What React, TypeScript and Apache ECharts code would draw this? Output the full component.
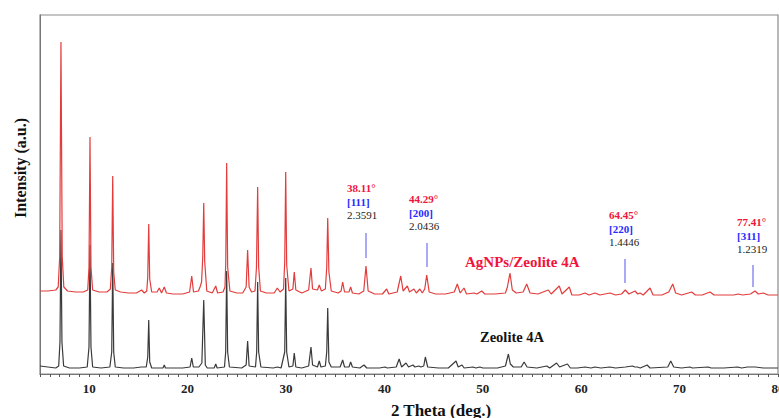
import React, { useEffect, useRef } from "react";
import * as echarts from "echarts";

// 2θ (deg.) vs intensity (a.u.)
const zeolite4A: [number, number][] = [
  [5, 11], [5.8, 10], [6.6, 9], [6.9, 11], [7.03, 35], [7.13, 147], [7.23, 35], [7.4, 11], [8.0, 9], [9.0, 9],
  [9.8, 10], [9.98, 30], [10.08, 132], [10.18, 30], [10.35, 10], [11.2, 9], [12.1, 10], [12.29, 25], [12.39, 114],
  [12.49, 25], [12.65, 10], [13.5, 9], [14.5, 9], [15.3, 10], [15.8, 10], [15.95, 20], [16.05, 57], [16.15, 15],
  [16.35, 9], [17.0, 9], [17.5, 9], [17.63, 12], [17.75, 9], [19.5, 9], [20.25, 10], [20.42, 19], [20.58, 10],
  [21.15, 10], [21.3, 12], [21.45, 14], [21.64, 77], [21.8, 12], [22.0, 9], [22.7, 9], [22.86, 13], [23.0, 9],
  [23.75, 10], [23.87, 25], [23.97, 106], [24.07, 25], [24.25, 10], [25.5, 9], [25.95, 12], [26.1, 36], [26.25, 11],
  [26.9, 10], [27.02, 25], [27.12, 95], [27.22, 25], [27.45, 10], [28.7, 9], [29.12, 10], [29.5, 9], [29.87, 25],
  [29.97, 99], [30.07, 25], [30.3, 10], [30.7, 11], [30.84, 24], [31.0, 10], [31.6, 9], [32.3, 11], [32.54, 30],
  [32.7, 12], [33.2, 10], [33.38, 16], [33.55, 10], [34.0, 11], [34.14, 25], [34.24, 69], [34.36, 15], [34.6, 10],
  [35.5, 10], [35.76, 17], [35.95, 10], [36.4, 10], [36.57, 15], [36.75, 10], [37.5, 9], [37.93, 12], [38.2, 9],
  [39.5, 9], [40.06, 10], [40.3, 9], [41.2, 10], [41.5, 18], [41.75, 10], [42.2, 14], [42.45, 10], [42.9, 12],
  [43.1, 10], [43.5, 11], [43.7, 10], [44.0, 11], [44.16, 20], [44.4, 10], [45.5, 9], [46.5, 9], [47.28, 16],
  [47.5, 10], [47.89, 12], [48.1, 9], [49.0, 10], [49.3, 9], [49.7, 10], [50.0, 9], [51.5, 9], [52.3, 11],
  [52.6, 23], [52.8, 13], [53.1, 10], [53.9, 10], [54.2, 15], [54.5, 10], [55.5, 9], [56.5, 11], [56.8, 9],
  [57.5, 14], [57.8, 10], [58.6, 13], [58.9, 9], [59.6, 9], [60.4, 10], [61.0, 9], [61.4, 10], [62.0, 9],
  [62.9, 10], [63.5, 9], [64.5, 10], [65.2, 11], [65.45, 10], [65.7, 10], [66.0, 9], [66.7, 12], [67.0, 9],
  [68.8, 10], [69.1, 16], [69.4, 10], [70.2, 9], [71.05, 10], [71.3, 9], [72.9, 10], [73.2, 9], [74.5, 9],
  [75.9, 10], [76.3, 9], [76.9, 10], [77.7, 10], [78.5, 9], [79.3, 9], [80, 9],
];

const agZeolite4A: [number, number][] = [
  [5, 86], [5.8, 86], [6.6, 87], [6.85, 90], [7.0, 120], [7.13, 335], [7.26, 120], [7.42, 90], [7.8, 86], [8.6, 85],
  [9.4, 85], [9.85, 87], [9.98, 110], [10.08, 240], [10.18, 110], [10.35, 87], [11.0, 85], [11.8, 85], [12.15, 88],
  [12.29, 110], [12.39, 201], [12.49, 105], [12.65, 87], [13.2, 85], [14.0, 84], [14.8, 84], [15.33, 87], [15.6, 84],
  [15.85, 86], [15.95, 100], [16.05, 153], [16.15, 98], [16.35, 85], [16.9, 85], [17.12, 89], [17.35, 84],
  [17.63, 90], [17.85, 84], [18.5, 83], [19.5, 83], [20.2, 85], [20.42, 101], [20.6, 85], [21.1, 86], [21.3, 91],
  [21.42, 95], [21.54, 120], [21.64, 174], [21.74, 115], [21.95, 86], [22.5, 84], [22.86, 91], [23.05, 84],
  [23.6, 85], [23.8, 90], [23.88, 115], [23.97, 214], [24.07, 110], [24.3, 86], [25.0, 84], [25.6, 84], [25.95, 90],
  [26.1, 127], [26.25, 90], [26.5, 85], [26.85, 86], [27.0, 110], [27.12, 190], [27.22, 110], [27.4, 86], [28.0, 84],
  [28.8, 84], [29.12, 89], [29.4, 85], [29.75, 88], [29.87, 115], [29.97, 205], [30.07, 112], [30.3, 86], [30.7, 88],
  [30.84, 105], [31.0, 87], [31.6, 84], [32.3, 87], [32.54, 109], [32.7, 88], [33.2, 87], [33.38, 92], [33.6, 86],
  [34.0, 88], [34.14, 110], [34.24, 159], [34.36, 105], [34.6, 86], [35.3, 84], [35.6, 86], [35.76, 95], [35.95, 85],
  [36.4, 85], [36.57, 90], [36.75, 84], [37.4, 83], [37.9, 86], [38.13, 111], [38.35, 86], [39.0, 83], [39.8, 83],
  [40.23, 88], [40.45, 83], [41.3, 85], [41.66, 101], [41.9, 86], [42.33, 91], [42.55, 85], [43.0, 88], [43.25, 84],
  [43.6, 88], [43.85, 84], [44.1, 88], [44.3, 102], [44.55, 85], [45.2, 83], [46.2, 83], [47.1, 85], [47.41, 93],
  [47.7, 84], [48.09, 89], [48.35, 83], [49.1, 84], [49.4, 83], [49.89, 86], [50.2, 83], [51.2, 83], [52.3, 84],
  [52.5, 90], [52.76, 104], [53.0, 87], [53.4, 84], [54.1, 85], [54.46, 93], [54.8, 84], [55.6, 83], [56.66, 87],
  [56.95, 83], [57.77, 91], [58.05, 83], [58.79, 90], [59.05, 82], [59.8, 82], [60.39, 84], [60.8, 82], [61.4, 84],
  [61.9, 82], [62.4, 83], [62.93, 84], [63.5, 82], [64.1, 83], [64.48, 87], [64.85, 83], [65.47, 86], [65.75, 83],
  [65.98, 84], [66.3, 82], [67.0, 89], [67.3, 82], [68.2, 82], [68.9, 85], [69.3, 93], [69.6, 84], [70.2, 82],
  [71.23, 85], [71.6, 82], [72.3, 82], [73.09, 85], [73.5, 82], [74.5, 82], [75.5, 82], [75.96, 83], [76.4, 82],
  [77.2, 83], [77.66, 86], [78.0, 83], [78.5, 84], [79.0, 82], [79.6, 82], [80, 82],
];

// Ag peak annotations
const agPeaks = [38.11, 44.29, 64.45, 77.41];
const agPeakLabels = ["38.11°", "44.29°", "64.45°", "77.41°"];
const agHkl = ["[111]", "[200]", "[220]", "[311]"];
const agDSpacing = ["2.3591", "2.0436", "1.4446", "1.2319"];
const markerLow = [119, 110, 94, 90];
const markerHigh = [144, 134, 118, 112];

const xTickLabels = [10, 20, 30, 40, 50, 60, 70, 80];

const SERIF = '"Liberation Serif", "Times New Roman", serif';

export default function App() {
  const ref = useRef<HTMLDivElement>(null);
  useEffect(() => {
    if (!ref.current) return;
    const chart = echarts.init(ref.current, null, { renderer: "svg" });

    const annX = [347, 409, 609, 737];
    const annY = [188, 199, 215, 222];
    const annTexts: any[] = [];
    agPeaks.forEach((_, i) => {
      annTexts.push(
        { type: "text", x: annX[i], y: annY[i], style: { text: agPeakLabels[i], fill: "#f0143c", font: `bold 11px ${SERIF}`, verticalAlign: "middle" } },
        { type: "text", x: annX[i], y: annY[i] + 14, style: { text: agHkl[i], fill: "#2a2aff", font: `bold 11px ${SERIF}`, verticalAlign: "middle" } },
        { type: "text", x: annX[i], y: annY[i] + 26.5, style: { text: agDSpacing[i], fill: "#222", font: `11px ${SERIF}`, verticalAlign: "middle" } }
      );
    });

    chart.setOption({
      animation: false,
      backgroundColor: "#fff",
      grid: {
        left: 40, top: 15, right: 1, bottom: 44,
        outerBoundsMode: "none",
        containLabel: false,
        show: true, borderColor: "#8a8a8a", borderWidth: 1.2,
      },
      xAxis: {
        type: "value",
        min: 5,
        max: 80,
        interval: 1,
        axisLine: { show: true, lineStyle: { color: "#777", width: 1.2 } },
        axisTick: { show: true, length: 3, inside: false, lineStyle: { color: "#555" } },
        splitLine: { show: false },
        axisLabel: {
          margin: 8,
          color: "#222",
          fontFamily: SERIF,
          fontWeight: "bold",
          fontSize: 13,
          formatter: (v: number) => (xTickLabels.includes(v) ? String(v) : ""),
        },
      },
      yAxis: {
        type: "value",
        min: 3,
        max: 362,
        axisLine: { show: true, lineStyle: { color: "#777" } },
        axisTick: { show: false },
        axisLabel: { show: false },
        splitLine: { show: false },
      },
      series: [
        {
          name: "Zeolite 4A",
          type: "line",
          data: zeolite4A,
          showSymbol: false,
          symbol: "none",
          lineStyle: { color: "#3a3a3a", width: 1.2 },
        },
        {
          name: "AgNPs/Zeolite 4A",
          type: "line",
          data: agZeolite4A,
          showSymbol: false,
          symbol: "none",
          lineStyle: { color: "#e23c3c", width: 1.2 },
          markLine: {
            silent: true,
            symbol: "none",
            label: { show: false },
            lineStyle: { color: "#8c8cf5", width: 1.5, type: "solid" },
            data: agPeaks.map((p, i) => [{ coord: [p, markerLow[i]] }, { coord: [p, markerHigh[i]] }]),
          },
        },
      ],
      graphic: [
        {
          type: "text",
          x: 20,
          y: 168,
          rotation: Math.PI / 2,
          style: { text: "Intensity (a.u.)", fill: "#111", font: `bold 16px ${SERIF}`, textAlign: "center", verticalAlign: "middle" },
        },
        {
          type: "text",
          x: 441,
          y: 410,
          style: { text: "2 Theta (deg.)", fill: "#111", font: `bold 17px ${SERIF}`, textAlign: "center", verticalAlign: "middle" },
        },
        {
          type: "text",
          x: 465,
          y: 262,
          style: { text: "AgNPs/Zeolite 4A", fill: "#f0143c", font: `bold 15px ${SERIF}`, verticalAlign: "middle" },
        },
        {
          type: "text",
          x: 480,
          y: 337,
          style: { text: "Zeolite 4A", fill: "#111", font: `bold 14.5px ${SERIF}`, verticalAlign: "middle" },
        },
        ...annTexts,
      ],
    });
    return () => chart.dispose();
  }, []);
  return <div ref={ref} style={{ position: "fixed", left: 0, top: 0, width: 779, height: 418 }} />;
}
